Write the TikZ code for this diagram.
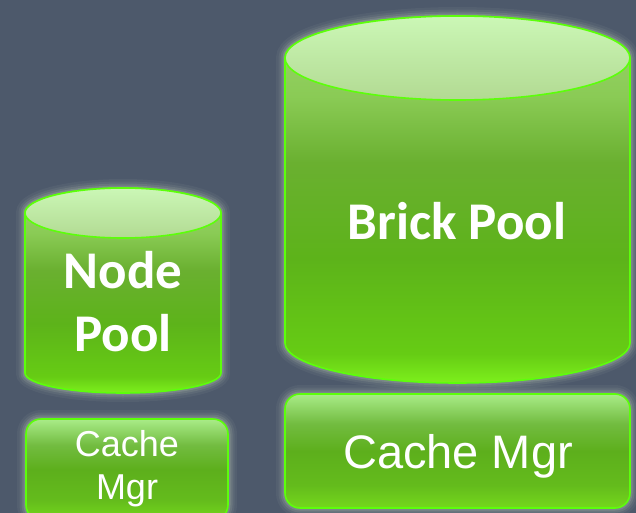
\documentclass[tikz,border=0pt]{standalone}
\usepackage{fontspec}
\newfontfamily\poolfont{Carlito}
\newfontfamily\mgrfont{Liberation Sans}
\definecolor{slateBg}{HTML}{4D596B}
\definecolor{rimGreen}{HTML}{5CFF0A}
\definecolor{haloClr}{HTML}{C8D8C0}
\definecolor{capTop}{HTML}{CBF7B6}
\definecolor{capBot}{HTML}{B2DA92}
\definecolor{bodyBot}{HTML}{7DF01C}
\definecolor{bodyLow}{HTML}{66CC14}
\definecolor{bodyMid}{HTML}{5DB31A}
\definecolor{bodyUp}{HTML}{6AB030}
\definecolor{bodyTop}{HTML}{8ACB55}
\definecolor{mgrTop}{HTML}{A9EC88}
\definecolor{mgrUp}{HTML}{72BC40}
\definecolor{mgrMid}{HTML}{5DAF1C}
\definecolor{mgrBot}{HTML}{74D81C}
\usetikzlibrary{positioning}
\pgfdeclareverticalshading{poolbody}{100bp}{color(0bp)=(bodyBot); color(25bp)=(bodyBot);
  color(29bp)=(bodyLow); color(42bp)=(bodyMid); color(55bp)=(bodyUp);
  color(64bp)=(bodyTop); color(75bp)=(bodyTop!85!white); color(100bp)=(bodyTop!85!white)}
\pgfdeclareverticalshading{mgrbody}{100bp}{color(0bp)=(mgrBot); color(25bp)=(mgrBot);
  color(35bp)=(mgrMid!70!mgrBot); color(50bp)=(mgrMid); color(62bp)=(mgrUp);
  color(75bp)=(mgrTop); color(100bp)=(mgrTop)}

\begin{document}
\begin{tikzpicture}[x=1pt, y=-1pt,
    halo/.style={preaction={draw, haloClr, line width=18pt, opacity=0.06},
                 preaction={draw, haloClr, line width=13pt, opacity=0.08},
                 preaction={draw, haloClr, line width=9pt, opacity=0.12},
                 preaction={draw, haloClr, line width=5pt, opacity=0.18}},
    rim/.style={draw=rimGreen, line width=1.6pt},
    poolbox/.style={halo, rim, shading=poolbody},
    capbox/.style={rim, top color=capTop, bottom color=capBot},
    mgrbox/.style={halo, rim, shading=mgrbody, rounded corners=15pt},
    poollabel/.style={text=white, font=\poolfont\bfseries\fontsize{53}{63}\selectfont, align=center},
    mgrlabel/.style 2 args={text=white, font=\mgrfont\fontsize{#1}{#2}\selectfont, align=center}]
    \useasboundingbox[fill=slateBg] (0,0) rectangle (636,513);
    % brick pool cylinder
    \path[poolbox] (285,58) -- (285,343) arc (180:0:172.5 and 40) -- (630,58) arc (0:-180:172.5 and 42) -- cycle;
    \path[capbox] (457.5,58) ellipse (172.5 and 42);
    % node pool cylinder
    \path[poolbox] (25,213) -- (25,373) arc (180:0:98 and 20) -- (221,213) arc (0:-180:98 and 25) -- cycle;
    \path[capbox] (123,213) ellipse (98 and 25);
    % cache managers
    \path[mgrbox] (26,419) rectangle (228,520);
    \path[mgrbox] (285,394) rectangle (630,508);
    % labels
    \node[poollabel, anchor=base] (brick) at (457,239) {Brick Pool};
    \node[poollabel] (nodepool) at (123,302) {Node\\Pool};
    \node[mgrlabel={47}{56}, anchor=base] (bigmgr) at (458,468) {Cache Mgr};
    \node[mgrlabel={36}{43}] (smallmgr) at (127,469) {Cache\\Mgr};
\end{tikzpicture}
\end{document}
